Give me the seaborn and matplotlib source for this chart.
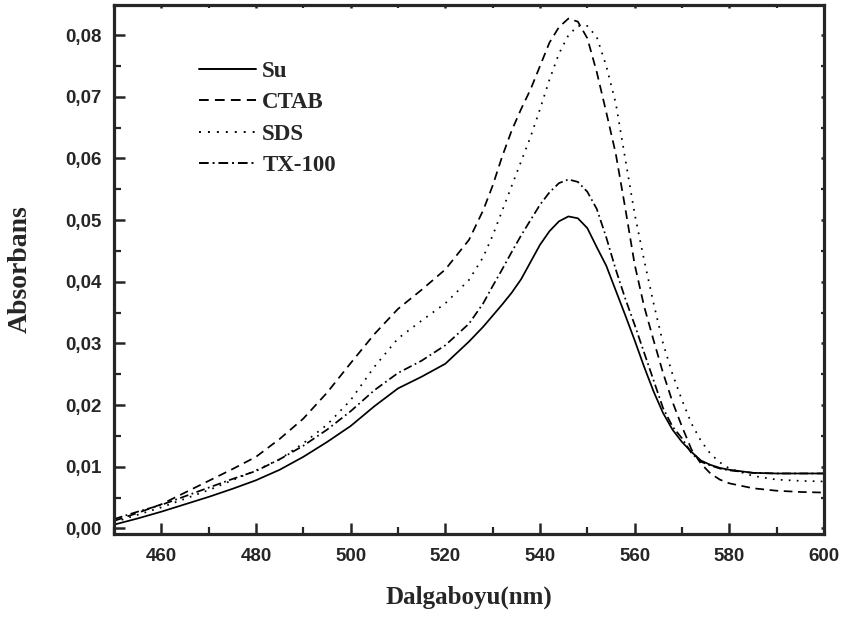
import numpy as np
import pandas as pd
import matplotlib
matplotlib.use("Agg")
import matplotlib.pyplot as plt
import seaborn as sns
from matplotlib.ticker import MultipleLocator, FuncFormatter

wavelength = [450, 455, 460, 465, 470, 475, 480, 485, 490, 495, 500, 505, 510, 515,
              520, 525, 528, 530, 532, 534, 536, 538, 540, 542, 544, 546, 548, 550,
              552, 554, 556, 558, 560, 562, 564, 566, 568, 570, 572, 574, 576, 578,
              580, 585, 590, 595, 600]

su = [.0006, .0016, .0027, .0039, .0051, .0064, .0078, .0095, .0116, .0140, .0166, .0198,
      .0227, .0246, .0267, .0303, .0327, .0345, .0363, .0382, .0404, .0432, .0460, .0482,
      .0498, .0506, .0503, .0487, .0456, .0426, .0386, .0346, .0305, .0262, .0222, .0187,
      .0160, .0140, .0124, .0110, .0103, .0098, .0095, .0090, .0089, .0089, .0089]

ctab = [.0012, .0025, .0039, .0058, .0077, .0096, .0116, .0145, .0178, .0220, .0268, .0315,
        .0356, .0387, .0420, .0468, .0516, .0556, .0603, .0645, .0680, .0712, .0750, .0788,
        .0813, .0827, .0822, .0795, .0740, .0675, .0608, .0520, .0428, .0360, .0305, .0252,
        .0205, .0165, .0128, .0105, .0089, .0079, .0073, .0065, .0061, .0059, .0058]

sds = [.0010, .0022, .0034, .0048, .0062, .0078, .0094, .0112, .0138, .0168, .0208, .0262,
       .0308, .0337, .0365, .0403, .0440, .0475, .0515, .0555, .0595, .0635, .0680, .0728,
       .0770, .0800, .0815, .0815, .0797, .0750, .0690, .0600, .0510, .0435, .0365, .0300,
       .0250, .0208, .0170, .0142, .0121, .0107, .0097, .0085, .0079, .0077, .0076]

tx100 = [.0015, .0027, .0038, .0052, .0066, .0080, .0093, .0112, .0134, .0160, .0190, .0224,
         .0252, .0272, .0297, .0332, .0365, .0393, .0420, .0448, .0475, .0500, .0525, .0545,
         .0560, .0566, .0562, .0546, .0518, .0472, .0420, .0373, .0330, .0285, .0240, .0195,
         .0165, .0146, .0122, .0108, .0102, .0097, .0094, .0090, .0089, .0089, .0089]

series_names = ["Su", "CTAB", "SDS", "TX-100"]
x_ticks = [460, 480, 500, 520, 540, 560, 580, 600]
y_ticks = [0.00, 0.01, 0.02, 0.03, 0.04, 0.05, 0.06, 0.07, 0.08]

frames = []
for name, vals in zip(series_names, [su, ctab, sds, tx100]):
    frames.append(pd.DataFrame({"Dalgaboyu": wavelength, "Absorbans": vals, "Seri": name}))
df = pd.concat(frames, ignore_index=True)

sns.set_style("ticks")
plt.rcParams["font.family"] = ["Liberation Sans", "DejaVu Sans"]

fig = plt.figure(figsize=(8.5, 6.17), dpi=100)
ax = fig.add_axes([114 / 850, 1 - 534 / 617, 710 / 850, 529 / 617])

dashes = {"Su": "", "CTAB": (5, 3.2), "SDS": (1, 3.6), "TX-100": (5, 2, 1, 2)}
palette = {n: "black" for n in series_names}
sns.lineplot(data=df, x="Dalgaboyu", y="Absorbans", hue="Seri", style="Seri",
             hue_order=series_names, style_order=series_names,
             palette=palette, dashes=dashes, linewidth=1.25, ax=ax, legend=True)

ax.set_xlim(450, 600)
ax.set_ylim(-0.00092, 0.0849)
ax.set_xticks(x_ticks)
ax.set_yticks(y_ticks)
ax.xaxis.set_minor_locator(MultipleLocator(10))
ax.yaxis.set_minor_locator(MultipleLocator(0.005))
ax.yaxis.set_major_formatter(FuncFormatter(lambda v, p: f"{v:.2f}".replace(".", ",")))

for sp in ax.spines.values():
    sp.set_linewidth(2.3)
    sp.set_visible(True)

ax.tick_params(axis="both", which="major", direction="in", length=8, width=1.8,
               labelsize=13.5, pad=9)
ax.tick_params(axis="both", which="minor", direction="in", length=5, width=1.6)
ax.tick_params(axis="both", which="both", top=True, right=True)
for lab in ax.get_xticklabels() + ax.get_yticklabels():
    lab.set_fontweight("bold")
ax.tick_params(axis="x", which="major", pad=10)
for t in ax.xaxis.get_major_ticks() + ax.xaxis.get_minor_ticks():
    t.tick2line.set_markersize(2.5)
for t in ax.yaxis.get_major_ticks() + ax.yaxis.get_minor_ticks():
    t.tick2line.set_markersize(2.5)

ax.set_xlabel("Dalgaboyu(nm)", fontfamily="Liberation Serif", fontweight="bold", fontsize=18)
ax.set_ylabel("Absorbans", fontfamily="Liberation Serif", fontweight="bold", fontsize=20)
ax.xaxis.set_label_coords(0.5, -0.097)
ax.yaxis.set_label_coords(-0.114, 0.5)

handles, labels = ax.get_legend_handles_labels()
leg = ax.legend(handles, labels, loc="upper left", bbox_to_anchor=(0.12, 0.894),
                frameon=False, handlelength=2.5, handletextpad=0.25, labelspacing=0.45,
                borderpad=0, borderaxespad=0,
                prop={"family": "Liberation Serif", "weight": "bold", "size": 16.5})
for line in leg.get_lines():
    line.set_linewidth(1.4)

fig.savefig("out.png", dpi=100)
